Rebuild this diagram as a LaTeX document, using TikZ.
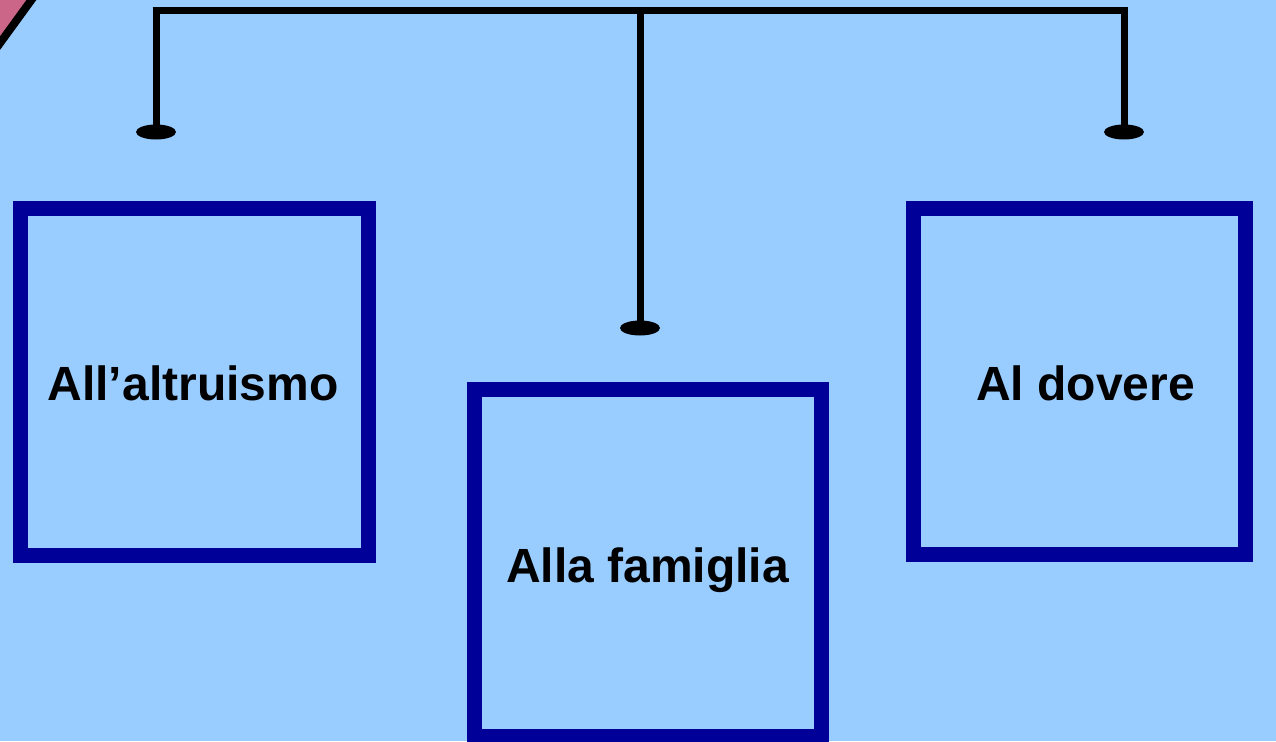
\documentclass[tikz,border=0pt]{standalone}
\usepackage{fontspec}
\setmainfont{Liberation Sans}
\usetikzlibrary{shapes.geometric}
\definecolor{bgblue}{RGB}{153,204,255}
\definecolor{boxblue}{RGB}{0,0,153}
\definecolor{cornerpink}{RGB}{204,102,136}
\tikzset{
  framebox/.style={draw=boxblue, line width=15pt, fill=bgblue, inner sep=0pt},
  lbl/.style={font=\bfseries\fontsize{48}{54}\selectfont, text=black, inner sep=0pt},
  dot/.style={ellipse, fill=black, minimum width=40pt, minimum height=15pt, inner sep=0pt},
  conn/.style={line width=7pt, draw=black}
}
\begin{document}
\begin{tikzpicture}[x=1pt,y=-1pt]
\useasboundingbox (0,0) rectangle (1276,741);
\fill[bgblue] (0,0) rectangle (1276,741);
% corner decoration
\fill[cornerpink] (-5,-5) -- (33,-5) -- (-5,48) -- cycle;
\draw[line width=8pt] (35,-5) -- (-5,50);
% boxes
\node[framebox, minimum width=348pt, minimum height=347pt] (b1) at (194,381.5) {};
\node[framebox, minimum width=347pt, minimum height=347pt] (b2) at (647.5,562.5) {};
\node[framebox, minimum width=332pt, minimum height=346pt] (b3) at (1079,381) {};
\node[lbl, anchor=base] (t1) at (193,400) {All’altruismo};
\node[lbl, anchor=base] (t2) at (647.5,582) {Alla famiglia};
\node[lbl, anchor=base] (t3) at (1085.5,400) {Al dovere};
% connectors
\coordinate (cl) at (156,11);
\coordinate (cm) at (640,11);
\coordinate (cr) at (1124,11);
\node[dot] (e1) at (156,132) {};
\node[dot] (e2) at (640,328) {};
\node[dot] (e3) at (1124,132) {};
\draw[conn] ([xshift=-3.5pt]cl) -- ([xshift=3.5pt]cr);
\draw[conn] (cl) -- (e1.center);
\draw[conn] (cm) -- (e2.center);
\draw[conn] (cr) -- (e3.center);
\end{tikzpicture}
\end{document}
